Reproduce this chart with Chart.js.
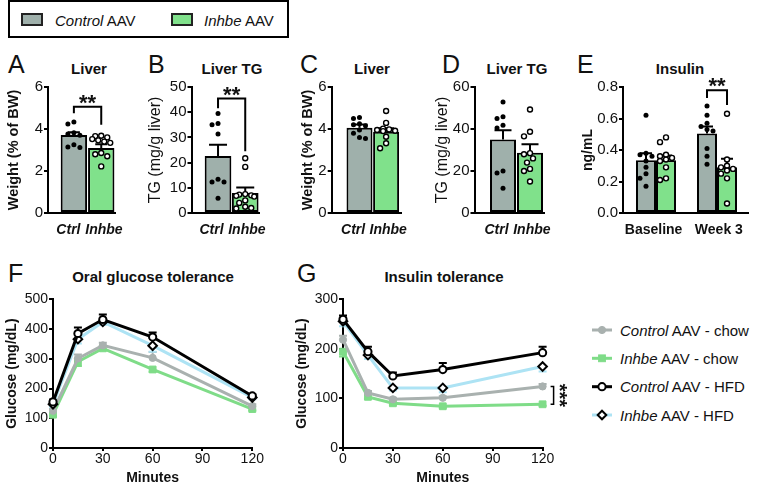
<!DOCTYPE html>
<html>
<head>
<meta charset="utf-8">
<script src="https://cdn.jsdelivr.net/npm/chart.js@4/dist/chart.umd.min.js"></script>
<style>
html,body{margin:0;padding:0;background:#fff;}
body{width:777px;height:488px;position:relative;overflow:hidden;font-family:"Liberation Sans",Arial,Helvetica,sans-serif;color:#111;}
.abs{position:absolute;white-space:nowrap;line-height:1;}
canvas{position:absolute;}
.let{font-size:25px;}
.ttl{font-size:15px;font-weight:bold;transform:translateX(-50%);}
.lg{font-size:15px;}
</style>
</head>
<body>
<div class="abs" style="left:8px;top:0px;width:281px;height:38px;border:2px solid #000;box-sizing:border-box;"></div>
<div class="abs" id="sw1" style="left:21px;top:13px;width:22px;height:13px;border:2px solid #222;box-sizing:border-box;"></div>
<div class="abs lg" style="left:55px;top:13px;"><i>Control</i> AAV</div>
<div class="abs" id="sw2" style="left:171px;top:13px;width:22px;height:13px;border:2px solid #222;box-sizing:border-box;"></div>
<div class="abs lg" style="left:204px;top:13px;"><i>Inhbe</i> AAV</div>

<div class="abs let" style="left:8px;top:52px;">A</div>
<div class="abs let" style="left:148px;top:52px;">B</div>
<div class="abs let" style="left:300px;top:52px;">C</div>
<div class="abs let" style="left:442px;top:52px;">D</div>
<div class="abs let" style="left:577px;top:52px;">E</div>
<div class="abs let" style="left:8px;top:261px;">F</div>
<div class="abs let" style="left:297px;top:261px;">G</div>

<div class="abs ttl" style="left:89px;top:61px;">Liver</div>
<div class="abs ttl" style="left:232px;top:61px;">Liver TG</div>
<div class="abs ttl" style="left:372px;top:61px;">Liver</div>
<div class="abs ttl" style="left:517px;top:61px;">Liver TG</div>
<div class="abs ttl" style="left:680px;top:61px;">Insulin</div>
<div class="abs ttl" style="left:153px;top:269px;">Oral glucose tolerance</div>
<div class="abs ttl" style="left:444px;top:269px;">Insulin tolerance</div>

<script>
// ---------------- DATA ----------------
const barCats = ['Ctrl', 'Inhbe'];
// A: liver weight (% of BW), chow
const aMeans = [3.71, 3.10];
const aSems = [0.14, 0.17];
const aCtrlPts = [4.33, 4.24, 3.82, 3.76, 3.70, 3.25, 3.14, 3.12];
const aInhbePts = [3.68, 3.66, 3.60, 3.52, 3.46, 3.40, 3.34, 2.86, 2.80, 2.70, 2.22];
// B: liver TG (mg/g liver), chow
const bMeans = [22.6, 7.9];
const bSems = [4.5, 2.2];
const bCtrlPts = [39.5, 35.5, 35.0, 31.3, 13.4, 12.3, 12.3, 5.9];
const bInhbePts = [21.7, 18.3, 7.5, 7.3, 7.0, 6.8, 6.5, 5.0, 4.0, 2.5, 2.0, 1.8];
// C: liver weight (% of BW)
const cMeans = [4.06, 3.87];
const cSems = [0.16, 0.16];
const cCtrlPts = [4.55, 4.50, 4.25, 4.20, 4.15, 3.95, 3.80, 3.60, 3.55];
const cInhbePts = [4.86, 4.29, 4.02, 3.98, 3.95, 3.92, 3.90, 3.63, 3.32, 3.08];
// D: liver TG (mg/g liver)
const dMeans = [35.0, 28.7];
const dSems = [4.4, 4.0];
const dCtrlPts = [52.9, 45.8, 45.0, 41.8, 40.5, 20.0, 19.0, 11.8];
const dInhbePts = [49.3, 38.7, 36.5, 28.5, 28.0, 26.0, 24.0, 21.0, 20.0, 15.0];
// E: insulin (ng/mL)
const eCats = ['Baseline', 'Week 3'];
const eCtrlMeans = [0.335, 0.505];
const eInhbeMeans = [0.335, 0.290];
const eCtrlSems = [0.045, 0.045];
const eInhbeSems = [0.030, 0.055];
const eCtrlBasePts = [0.62, 0.38, 0.37, 0.36, 0.33, 0.29, 0.25, 0.22, 0.17];
const eCtrlWk3Pts = [0.68, 0.62, 0.57, 0.55, 0.53, 0.52, 0.41, 0.36, 0.31];
const eInhbeBasePts = [0.48, 0.45, 0.37, 0.36, 0.35, 0.34, 0.33, 0.29, 0.22, 0.21];
const eInhbeWk3Pts = [0.63, 0.34, 0.30, 0.29, 0.28, 0.27, 0.25, 0.22, 0.06];
// F/G time axis
const minutes = [0, 15, 30, 60, 120];
// F: oral glucose tolerance (mg/dL)
const fCtrlChow = [125, 301, 345, 303, 141];
const fInhbeChow = [112, 290, 335, 264, 131];
const fCtrlHfd = [155, 385, 432, 373, 175];
const fInhbeHfd = [147, 366, 424, 344, 170];
const fCtrlChowSem = [6, 13, 9, 20, 6];
const fInhbeChowSem = [5, 14, 6, 8, 5];
const fCtrlHfdSem = [8, 20, 17, 15, 6];
const fInhbeHfdSem = [8, 15, 10, 20, 6];
// G: insulin tolerance (mg/dL)
const gCtrlChow = [218, 111, 98, 101, 124];
const gInhbeChow = [194, 103, 90, 84, 88];
const gCtrlHfd = [259, 194, 145, 158, 192];
const gInhbeHfd = [255, 187, 121, 121, 164];
const gCtrlChowSem = [8, 4, 3, 3, 5];
const gInhbeChowSem = [10, 4, 3, 3, 3];
const gCtrlHfdSem = [8, 10, 7, 13, 12];
const gInhbeHfdSem = [10, 8, 5, 9, 10];

// ---------------- STYLE ----------------
const FONT = '"Liberation Sans", Arial, Helvetica, sans-serif';
Chart.defaults.font.family = FONT;
Chart.defaults.color = '#111';
const GREY_BAR = '#9fb0ab', GREEN_BAR = '#80e18b';
document.getElementById('sw1').style.background = GREY_BAR;
document.getElementById('sw2').style.background = GREEN_BAR;

const lineSeries = [
  {it:'Control', rest:' AAV - chow', color:'#a9b1af', ps:'circle', r:3.6, fill:'#a9b1af', pbc:'#a9b1af', pbw:1, order:2, dir:1},
  {it:'Inhbe', rest:' AAV - chow', color:'#7fdc88', ps:'rect', r:4.8, fill:'#7fdc88', pbc:'#7fdc88', pbw:1, order:3, dir:-1},
  {it:'Control', rest:' AAV - HFD', color:'#000000', ps:'circle', r:3.6, fill:'#ffffff', pbc:'#000000', pbw:2, order:0, dir:1},
  {it:'Inhbe', rest:' AAV - HFD', color:'#ade3f4', ps:'rectRot', r:4.3, fill:'#ffffff', pbc:'#000000', pbw:2, order:1, dir:-1}
];

function mkCanvas(b) {
  const c = document.createElement('canvas');
  c.width = b.w; c.height = b.h;
  c.style.left = b.x + 'px'; c.style.top = b.y + 'px';
  c.style.width = b.w + 'px'; c.style.height = b.h + 'px';
  document.body.appendChild(c);
  return c;
}

function swarm(vals, xc, ys, r, maxOff) {
  const idx = vals.map((v, i) => i).sort((a, b) => vals[b] - vals[a]);
  const placed = [], out = [];
  const min = 2 * r + 1;
  const cands = [0];
  for (let k = 1; k * 3 <= maxOff; k++) cands.push(-k * 3, k * 3);
  idx.forEach(i => {
    const y = ys.getPixelForValue(vals[i]);
    let best = xc, bestScore = Infinity;
    for (const dx of cands) {
      const x = xc + dx;
      let ok = true, ov = 0;
      for (const q of placed) {
        const d = Math.hypot(q[0] - x, q[1] - y);
        if (d < min) { ok = false; ov += min - d; }
      }
      if (ok) { best = x; break; }
      if (ov < bestScore) { bestScore = ov; best = x; }
    }
    placed.push([best, y]);
    out[i] = [best, y];
  });
  return out;
}

function barExtras(p) {
  return {
    id: 'barExtras',
    afterDatasetsDraw(chart) {
      const ctx = chart.ctx, ys = chart.scales.y;
      ctx.save();
      ctx.strokeStyle = '#000'; ctx.lineWidth = 2;
      p.datasets.forEach((ds, di) => {
        const meta = chart.getDatasetMeta(di);
        ds.means.forEach((m, i) => {
          const el = meta.data[i];
          const y0 = ys.getPixelForValue(m), y1 = ys.getPixelForValue(m + ds.sems[i]);
          ctx.beginPath();
          ctx.moveTo(el.x, y0); ctx.lineTo(el.x, y1);
          ctx.moveTo(el.x - p.cap / 2, y1); ctx.lineTo(el.x + p.cap / 2, y1);
          ctx.stroke();
        });
      });
      p.datasets.forEach((ds, di) => {
        const meta = chart.getDatasetMeta(di);
        ds.pts.forEach((vals, i) => {
          const el = meta.data[i];
          const pos = swarm(vals, el.x, ys, 2.5, el.width * 0.4);
          pos.forEach(([x, y]) => {
            ctx.beginPath(); ctx.arc(x, y, 2.5, 0, Math.PI * 2);
            if (ds.hollow[i]) { ctx.fillStyle = '#fff'; ctx.fill(); ctx.lineWidth = 1.4; ctx.strokeStyle = '#000'; ctx.stroke(); }
            else { ctx.fillStyle = '#000'; ctx.fill(); }
          });
        });
      });
      if (p.bracket) {
        const b = p.bracket;
        const xa = chart.getDatasetMeta(b.a[0]).data[b.a[1]].x;
        const xb = chart.getDatasetMeta(b.b[0]).data[b.b[1]].x;
        const yt = ys.getPixelForValue(b.top), ya = ys.getPixelForValue(b.endA), yb = ys.getPixelForValue(b.endB);
        ctx.strokeStyle = '#000'; ctx.lineWidth = 2;
        ctx.beginPath(); ctx.moveTo(xa, ya); ctx.lineTo(xa, yt); ctx.lineTo(xb, yt); ctx.lineTo(xb, yb); ctx.stroke();
        ctx.fillStyle = '#111'; ctx.font = 'bold 22px ' + FONT; ctx.textAlign = 'center'; ctx.textBaseline = 'alphabetic';
        ctx.fillText(b.label, (xa + xb) / 2, yt + 3);
      }
      ctx.restore();
    }
  };
}

function barPanel(p) {
  const c = mkCanvas(p.box);
  const yw = p.area.L - p.box.x, xh = p.box.y + p.box.h - p.area.B;
  const padTop = p.area.T - p.box.y, padRight = p.box.x + p.box.w - p.area.R;
  return new Chart(c, {
    type: 'bar',
    data: {
      datasets: p.datasets.map(ds => ({
        data: ds.means.map((m, i) => ({x: i, y: m})),
        backgroundColor: ds.color, borderColor: '#000', borderWidth: 2, borderSkipped: false,
        barPercentage: p.bp, categoryPercentage: p.cp, clip: false
      }))
    },
    options: {
      responsive: false, animation: false, events: [],
      layout: {padding: {top: padTop, right: padRight, left: 0, bottom: 0}},
      plugins: {legend: {display: false}, tooltip: {enabled: false}, title: {display: false}},
      scales: {
        x: {
          type: 'linear', min: p.xMin, max: p.xMax, offset: false,
          grid: {display: false, offset: false},
          border: {display: true, color: '#000', width: 2},
          afterBuildTicks: s => { s.ticks = p.labelAt.map(v => ({value: v})); },
          ticks: {callback: (v, i) => p.cats[i], autoSkip: false, maxRotation: 0, minRotation: 0, padding: 1,
                  font: {size: 14, weight: 'bold', style: p.catStyle}, color: '#111'},
          afterFit: s => { s.height = xh; }
        },
        y: {
          type: 'linear', min: p.yMin, max: p.yMax,
          ticks: {stepSize: p.yStep, padding: 1, font: {size: 15}, color: '#111', callback: p.yFmt || (v => v)},
          grid: {display: true, drawOnChartArea: false, drawTicks: true, tickLength: 4, color: '#000', lineWidth: 2},
          border: {display: true, color: '#000', width: 2},
          title: {display: true, text: p.yTitle, color: '#111',
                  font: {size: p.yTitleSize, weight: p.yTitleWeight},
                  padding: {top: p.yTitleX - p.box.x - p.yTitleSize * 0.6, bottom: 0}},
          afterFit: s => { s.width = yw; }
        }
      }
    },
    plugins: [barExtras(p)]
  });
}

// A
barPanel({
  box: {x: 0, y: 70, w: 125, h: 175}, area: {L: 48, T: 87, R: 117, B: 213},
  cats: barCats, labelAt: [-0.2, 1.1], xMin: -0.946, xMax: 1.518, catStyle: 'italic',
  yMin: 0, yMax: 6, yStep: 2, yTitle: 'Weight (% of BW)', yTitleSize: 14.5, yTitleWeight: 'bold', yTitleX: 14,
  bp: 0.964, cp: 1, cap: 12,
  datasets: [{means: aMeans, sems: aSems, color: [GREY_BAR, GREEN_BAR], pts: [aCtrlPts, aInhbePts], hollow: [false, true]}],
  bracket: {a: [0, 0], b: [0, 1], top: 5.06, endA: 4.75, endB: 4.2, label: '**'}
});
// B
barPanel({
  box: {x: 143, y: 70, w: 125, h: 175}, area: {L: 191.5, T: 87, R: 260, B: 213},
  cats: barCats, labelAt: [-0.24, 1.06], xMin: -0.975, xMax: 1.516, catStyle: 'italic',
  yMin: 0, yMax: 50, yStep: 10, yTitle: 'TG (mg/g liver)', yTitleSize: 16, yTitleWeight: 'normal', yTitleX: 156,
  bp: 0.98, cp: 1, cap: 18,
  datasets: [{means: bMeans, sems: bSems, color: [GREY_BAR, GREEN_BAR], pts: [bCtrlPts, bInhbePts], hollow: [false, true]}],
  bracket: {a: [0, 0], b: [0, 1], top: 45.4, endA: 41.6, endB: 24.5, label: '**'}
});
// C
barPanel({
  box: {x: 290, y: 70, w: 120, h: 175}, area: {L: 331.7, T: 87, R: 401, B: 213},
  cats: barCats, labelAt: [-0.24, 1.08], xMin: -1.045, xMax: 1.56, catStyle: 'italic',
  yMin: 0, yMax: 6, yStep: 2, yTitle: 'Weight (% of BW)', yTitleSize: 14.5, yTitleWeight: 'bold', yTitleX: 308,
  bp: 0.977, cp: 1, cap: 16,
  datasets: [{means: cMeans, sems: cSems, color: [GREY_BAR, GREEN_BAR], pts: [cCtrlPts, cInhbePts], hollow: [false, true]}]
});
// D
barPanel({
  box: {x: 430, y: 70, w: 125, h: 175}, area: {L: 474.5, T: 87, R: 544.5, B: 213},
  cats: barCats, labelAt: [-0.24, 1.07], xMin: -1.056, xMax: 1.537, catStyle: 'italic',
  yMin: 0, yMax: 60, yStep: 20, yTitle: 'TG (mg/g liver)', yTitleSize: 16, yTitleWeight: 'normal', yTitleX: 443,
  bp: 0.963, cp: 1, cap: 17,
  datasets: [{means: dMeans, sems: dSems, color: [GREY_BAR, GREEN_BAR], pts: [dCtrlPts, dInhbePts], hollow: [false, true]}]
});
// E
barPanel({
  box: {x: 575, y: 70, w: 202, h: 175}, area: {L: 623, T: 87, R: 748, B: 213},
  cats: eCats, labelAt: [-0.04, 1.03], xMin: -0.541, xMax: 1.508, catStyle: 'normal',
  yMin: 0, yMax: 0.8, yStep: 0.2, yFmt: v => Number(v).toFixed(1),
  yTitle: 'ng/mL', yTitleSize: 14, yTitleWeight: 'bold', yTitleX: 588,
  bp: 1, cp: 0.656, cap: 12,
  datasets: [
    {means: eCtrlMeans, sems: eCtrlSems, color: GREY_BAR, pts: [eCtrlBasePts, eCtrlWk3Pts], hollow: [false, false]},
    {means: eInhbeMeans, sems: eInhbeSems, color: GREEN_BAR, pts: [eInhbeBasePts, eInhbeWk3Pts], hollow: [true, true]}
  ],
  bracket: {a: [0, 1], b: [1, 1], top: 0.78, endA: 0.73, endB: 0.685, label: '**'}
});

// ---------------- LINE PANELS ----------------
function errPlugin(sems) {
  return {
    id: 'errbars',
    beforeDatasetsDraw(chart) {
      const ctx = chart.ctx, ys = chart.scales.y;
      ctx.save(); ctx.lineWidth = 2;
      chart.data.datasets.forEach((ds, k) => {
        const meta = chart.getDatasetMeta(k);
        ctx.strokeStyle = lineSeries[k].color;
        ds.data.forEach((d, i) => {
          const el = meta.data[i];
          const y1 = ys.getPixelForValue(d.y + lineSeries[k].dir * sems[k][i]);
          ctx.beginPath();
          ctx.moveTo(el.x, el.y); ctx.lineTo(el.x, y1);
          ctx.moveTo(el.x - 4, y1); ctx.lineTo(el.x + 4, y1);
          ctx.stroke();
        });
      });
      ctx.restore();
    }
  };
}

function sigPlugin(sig) {
  return {
    id: 'sig',
    afterDatasetsDraw(chart) {
      if (!sig) return;
      const ctx = chart.ctx, xs = chart.scales.x, ys = chart.scales.y;
      const x = xs.getPixelForValue(sig.x) + 11;
      const ya = ys.getPixelForValue(sig.a), yb = ys.getPixelForValue(sig.b);
      ctx.save();
      ctx.strokeStyle = '#000'; ctx.lineWidth = 1.5;
      ctx.beginPath(); ctx.moveTo(x - 3, ya); ctx.lineTo(x, ya); ctx.lineTo(x, yb); ctx.lineTo(x - 3, yb); ctx.stroke();
      ctx.translate(x - 1, (ya + yb) / 2); ctx.rotate(Math.PI / 2);
      ctx.fillStyle = '#111'; ctx.font = 'bold 20px ' + FONT; ctx.textAlign = 'center'; ctx.textBaseline = 'alphabetic';
      ctx.fillText(sig.label, 0, 0);
      ctx.restore();
    }
  };
}

function linePanel(p) {
  const c = mkCanvas(p.box);
  const yw = p.area.L - p.box.x, xh = p.box.y + p.box.h - p.area.B;
  const padTop = p.area.T - p.box.y, padRight = p.box.x + p.box.w - p.area.R;
  return new Chart(c, {
    type: 'line',
    data: {
      datasets: lineSeries.map((s, k) => ({
        data: minutes.map((t, i) => ({x: t, y: p.means[k][i]})),
        borderColor: s.color, borderWidth: 3, tension: 0, fill: false,
        pointStyle: s.ps, pointRadius: s.r, pointBackgroundColor: s.fill,
        pointBorderColor: s.pbc, pointBorderWidth: s.pbw, order: s.order, clip: false
      }))
    },
    options: {
      responsive: false, animation: false, events: [],
      layout: {padding: {top: padTop, right: padRight, left: 0, bottom: 0}},
      plugins: {legend: {display: false}, tooltip: {enabled: false}, title: {display: false}},
      scales: {
        x: {
          type: 'linear', min: 0, max: 120,
          ticks: {stepSize: 30, padding: 0, font: {size: 14}, color: '#111', maxRotation: 0},
          grid: {display: true, drawOnChartArea: false, drawTicks: true, tickLength: 3, color: '#000', lineWidth: 2},
          border: {display: true, color: '#000', width: 2},
          title: {display: true, text: 'Minutes', color: '#111', font: {size: 14, weight: 'bold'}, padding: {top: 0, bottom: 1.6}},
          afterFit: s => { s.height = xh; }
        },
        y: {
          type: 'linear', min: 0, max: p.yMax,
          ticks: {stepSize: 100, padding: 1, font: {size: 14}, color: '#111'},
          grid: {display: true, drawOnChartArea: false, drawTicks: true, tickLength: 4, color: '#000', lineWidth: 2},
          border: {display: true, color: '#000', width: 2},
          title: {display: true, text: 'Glucose (mg/dL)', color: '#111', font: {size: 14, weight: 'bold'},
                  padding: {top: p.yTitleX - p.box.x - 14 * 0.6, bottom: 0}},
          afterFit: s => { s.width = yw; }
        }
      }
    },
    plugins: [errPlugin(p.sems), sigPlugin(p.sig)]
  });
}

linePanel({
  box: {x: 0, y: 285, w: 270, h: 203}, area: {L: 53, T: 299.3, R: 252.3, B: 448},
  yMax: 500, yTitleX: 12.5,
  means: [fCtrlChow, fInhbeChow, fCtrlHfd, fInhbeHfd],
  sems: [fCtrlChowSem, fInhbeChowSem, fCtrlHfdSem, fInhbeHfdSem]
});
linePanel({
  box: {x: 292, y: 285, w: 294, h: 203}, area: {L: 343, T: 299, R: 542.6, B: 448},
  yMax: 300, yTitleX: 302,
  means: [gCtrlChow, gInhbeChow, gCtrlHfd, gInhbeHfd],
  sems: [gCtrlChowSem, gInhbeChowSem, gCtrlHfdSem, gInhbeHfdSem],
  sig: {x: 120, a: gCtrlChow[4], b: gInhbeChow[4], label: '***'}
});

// ---------------- G legend ----------------
(function () {
  const rowY = [330, 358.3, 386.7, 415];
  const NS = 'http://www.w3.org/2000/svg';
  const svg = document.createElementNS(NS, 'svg');
  svg.setAttribute('width', 30); svg.setAttribute('height', 110);
  svg.style.position = 'absolute'; svg.style.left = '588px'; svg.style.top = '318px';
  lineSeries.forEach((s, k) => {
    const cy = rowY[k] - 318;
    const ln = document.createElementNS(NS, 'line');
    ln.setAttribute('x1', 4); ln.setAttribute('x2', 24); ln.setAttribute('y1', cy); ln.setAttribute('y2', cy);
    ln.setAttribute('stroke', s.color); ln.setAttribute('stroke-width', 3);
    svg.appendChild(ln);
    let m;
    if (s.ps === 'circle') {
      m = document.createElementNS(NS, 'circle');
      m.setAttribute('cx', 14); m.setAttribute('cy', cy); m.setAttribute('r', s.r);
    } else if (s.ps === 'rect') {
      const h = s.r * Math.SQRT1_2;
      m = document.createElementNS(NS, 'rect');
      m.setAttribute('x', 14 - h); m.setAttribute('y', cy - h); m.setAttribute('width', 2 * h); m.setAttribute('height', 2 * h);
    } else {
      m = document.createElementNS(NS, 'polygon');
      const r = s.r;
      m.setAttribute('points', `14,${cy - r} ${14 + r},${cy} 14,${cy + r} ${14 - r},${cy}`);
    }
    m.setAttribute('fill', s.fill); m.setAttribute('stroke', s.pbc); m.setAttribute('stroke-width', s.pbw);
    svg.appendChild(m);
    const t = document.createElement('div');
    t.className = 'abs lg';
    t.style.left = '620px'; t.style.top = (rowY[k] + 5.4 - 12.7) + 'px';
    t.innerHTML = '<i>' + s.it + '</i>' + s.rest;
    document.body.appendChild(t);
  });
  document.body.appendChild(svg);
})();
</script>
</body>
</html>
